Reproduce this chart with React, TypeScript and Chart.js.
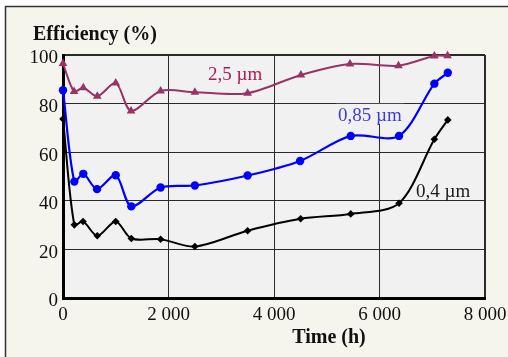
import React, { useEffect, useRef } from 'react';
import { Chart, registerables } from 'chart.js';

Chart.register(...registerables);

// Time (h) and efficiency (%) for each particle size
const hours25 = [0, 210, 385, 650, 1000, 1290, 1850, 2500, 3500, 4510, 5440, 6360, 7040, 7290];
const eff25 = [96.5, 85, 86.5, 83, 88.5, 77, 85.2, 84.7, 84.3, 91.8, 96.3, 95.6, 99.6, 99.7];

const hours085 = [0, 215, 385, 645, 1000, 1295, 1850, 2500, 3500, 4495, 5455, 6370, 7040, 7295];
const eff085 = [85.5, 47.9, 51.1, 44.8, 50.5, 37.7, 45.5, 46.3, 50.4, 56.4, 66.7, 66.7, 88.2, 92.7];

const hours04 = [0, 215, 380, 650, 1000, 1295, 1850, 2500, 3500, 4505, 5455, 6370, 7040, 7295];
const eff04 = [73.7, 30.1, 31.5, 25.6, 31.5, 24.5, 24.2, 21.2, 27.7, 32.6, 34.6, 39, 65.3, 73.3];

const seriesNames = ['2,5 µm', '0,85 µm', '0,4 µm'];

const xTickValues = [0, 2000, 4000, 6000, 8000];
const xTickLabels = ['0', '2 000', '4 000', '6 000', '8 000'];
const yTickValues = [0, 20, 40, 60, 80, 100];
const yTickLabels = ['0', '20', '40', '60', '80', '100'];

const yTitle = 'Efficiency (%)';
const xTitle = 'Time (h)';

// in-plot series labels, anchored in data coordinates (left edge, baseline)
const labelHours = [2750, 5214, 6693];
const labelEff = [89.7, 72.9, 41.6];

const SERIF = '"Liberation Serif", "Times New Roman", serif';
const PLOT_BG = '#f1f1f1';
const OUTER_BG = '#f5f5ee';

const toPoints = (xs: number[], ys: number[]) => xs.map((x, i) => ({ x, y: ys[i] }));

const decorPlugin = {
  id: 'decor',
  beforeDraw(chart: any) {
    const { ctx, width, height, chartArea } = chart;
    ctx.save();
    ctx.fillStyle = '#ffffff';
    ctx.fillRect(0, 0, width, height);
    ctx.fillStyle = OUTER_BG;
    ctx.fillRect(5, 6, width - 5, height - 6);
    ctx.strokeStyle = '#333';
    ctx.lineWidth = 1.5;
    ctx.beginPath();
    ctx.moveTo(5.5, height);
    ctx.lineTo(5.5, 6.5);
    ctx.lineTo(width, 6.5);
    ctx.stroke();
    ctx.fillStyle = PLOT_BG;
    ctx.fillRect(chartArea.left, chartArea.top, chartArea.right - chartArea.left, chartArea.bottom - chartArea.top);
    ctx.restore();
  },
  beforeDatasetsDraw(chart: any) {
    const { ctx } = chart;
    const xs = chart.scales.x;
    const ys = chart.scales.y;
    const colors = ['#b01a58', '#3c3cdc', '#1a1a1a'];
    ctx.save();
    ctx.font = `19px ${SERIF}`;
    ctx.textBaseline = 'alphabetic';
    ctx.textAlign = 'left';
    seriesNames.forEach((name, i) => {
      const px = xs.getPixelForValue(labelHours[i]);
      const py = ys.getPixelForValue(labelEff[i]);
      const w = ctx.measureText(name).width;
      ctx.fillStyle = PLOT_BG;
      ctx.fillRect(px - 2, py - 17, w + 4, 20);
      ctx.fillStyle = colors[i];
      ctx.fillText(name, px, py);
    });
    ctx.restore();
  },
  afterDraw(chart: any) {
    const { ctx } = chart;
    ctx.save();
    ctx.fillStyle = '#111';
    ctx.font = `bold 20px ${SERIF}`;
    ctx.textBaseline = 'alphabetic';
    ctx.textAlign = 'left';
    ctx.fillText(yTitle, 33, 40);
    ctx.textAlign = 'center';
    ctx.fillText(xTitle, 329, 343);
    ctx.restore();
  },
};

export default function App() {
  const canvasRef = useRef<HTMLCanvasElement | null>(null);

  useEffect(() => {
    const canvas = canvasRef.current;
    if (!canvas) return;
    const chart = new Chart(canvas, {
      type: 'line',
      data: {
        datasets: [
          {
            label: seriesNames[0],
            data: toPoints(hours25, eff25),
            borderColor: '#993366',
            backgroundColor: '#993366',
            borderWidth: 2,
            pointStyle: 'triangle',
            pointRadius: 5,
            pointBorderWidth: 0,
            tension: 0.3,
            clip: false,
          },
          {
            label: seriesNames[1],
            data: toPoints(hours085, eff085),
            borderColor: '#0000ff',
            backgroundColor: '#0000ff',
            borderWidth: 2.2,
            pointStyle: 'circle',
            pointRadius: 4.2,
            pointBorderWidth: 0,
            tension: 0.3,
            clip: false,
          },
          {
            label: seriesNames[2],
            data: toPoints(hours04, eff04),
            borderColor: '#000000',
            backgroundColor: '#000000',
            borderWidth: 2,
            pointStyle: 'rectRot',
            pointRadius: 3.8,
            pointBorderWidth: 0,
            tension: 0.3,
            clip: false,
          },
        ],
      },
      options: {
        animation: false,
        responsive: false,
        devicePixelRatio: 1,
        layout: { padding: { left: 0, top: 55, right: 23, bottom: 0 } },
        plugins: {
          legend: { display: false },
          tooltip: { enabled: false },
          title: { display: false },
        },
        scales: {
          x: {
            type: 'linear',
            min: 0,
            max: 8000,
            afterFit: (s: any) => {
              s.height = 59;
              s.paddingLeft = 0;
              s.paddingRight = 0;
            },
            ticks: {
              stepSize: 1000,
              autoSkip: false,
              maxRotation: 0,
              padding: 6,
              color: '#111',
              font: { family: SERIF, size: 19 },
              callback: (v: any) => {
                const i = xTickValues.indexOf(Number(v));
                return i >= 0 ? xTickLabels[i] : null;
              },
            },
            grid: {
              color: '#2a2a2a',
              lineWidth: (c: any) => (c.tick && c.tick.value === 8000 ? 2 : 1),
              drawTicks: false,
            },
            border: { color: '#000', width: 3 },
          },
          y: {
            type: 'linear',
            min: 0,
            max: 100,
            afterFit: (s: any) => {
              s.width = 63;
            },
            ticks: {
              stepSize: 10,
              autoSkip: false,
              padding: 5,
              labelOffset: 3.5,
              color: '#111',
              font: { family: SERIF, size: 19 },
              callback: (v: any) => {
                const i = yTickValues.indexOf(Number(v));
                return i >= 0 ? yTickLabels[i] : null;
              },
            },
            grid: {
              color: '#2a2a2a',
              lineWidth: (c: any) => (c.tick && c.tick.value === 100 ? 2 : 1),
              drawTicks: false,
            },
            border: { color: '#000', width: 3 },
          },
        },
      },
      plugins: [decorPlugin],
    } as any);
    return () => chart.destroy();
  }, []);

  return (
    <div style={{ position: 'fixed', left: 0, top: 0, width: 508, height: 357 }}>
      <canvas ref={canvasRef} width={508} height={357} style={{ width: 508, height: 357, display: 'block' }} />
    </div>
  );
}
